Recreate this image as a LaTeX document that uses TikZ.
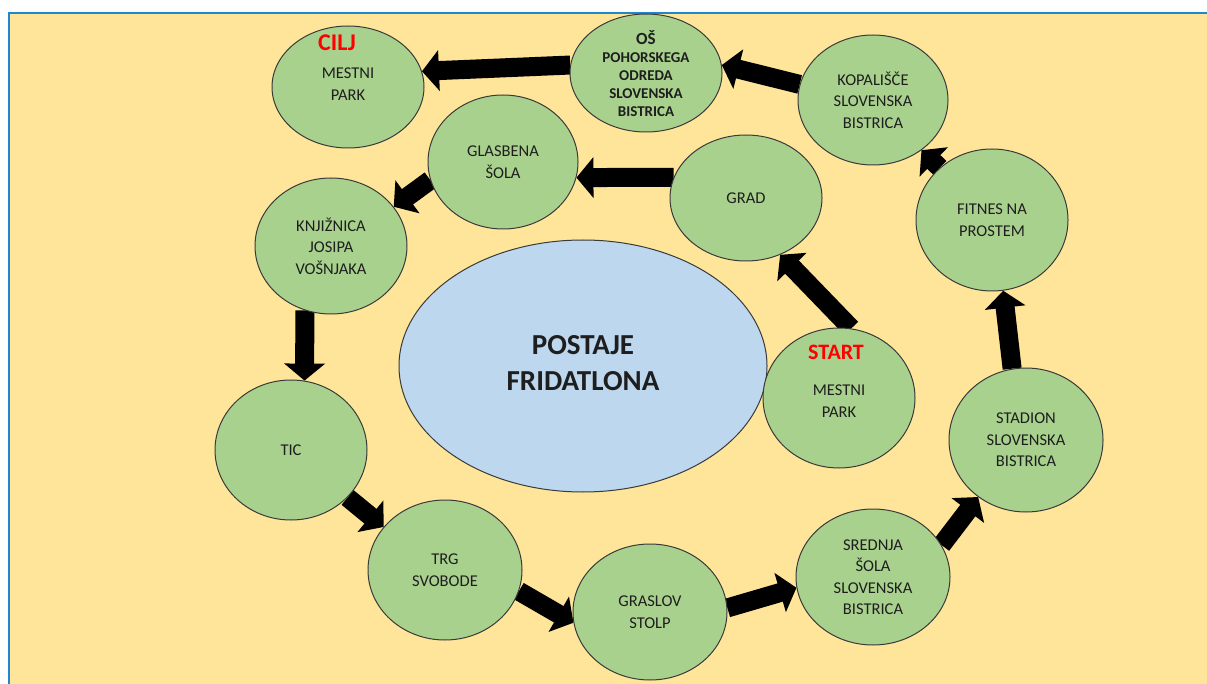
\documentclass[tikz,border=0pt]{standalone}
\usepackage{fontspec}
\setmainfont{Carlito}
\usetikzlibrary{arrows.meta,shapes.geometric}
\definecolor{bgy}{HTML}{FFE599}
\definecolor{grn}{HTML}{A9D18E}
\definecolor{lblue}{HTML}{BDD7EE}
\definecolor{framec}{HTML}{1F87D0}
\definecolor{edgec}{HTML}{3A3A3A}
\definecolor{txt}{HTML}{1E1E1E}
\definecolor{redt}{HTML}{FF0000}
\pgfdeclarelayer{bg}
\pgfdeclarelayer{arr}
\pgfsetlayers{bg,arr,main}
\begin{document}
\begin{tikzpicture}[x=1pt,y=-1pt,
  stn/.style 2 args={ellipse, draw=edgec, line width=1pt, fill=grn, inner sep=0pt,
     text=txt, align=center, font=\fontsize{16.5}{21.5}\selectfont,
     minimum width=#1pt, minimum height=#2pt},
  lbl/.style={text=txt, align=center, inner sep=0pt, font=\fontsize{16.5}{21.5}\selectfont},
  blk/.style={draw=black, line width=19pt, -{Triangle[width=40pt,length=17pt]}},
]
\useasboundingbox (0,0) rectangle (1207,684);
\begin{pgfonlayer}{bg}
\fill[white] (0,0) rectangle (1207,684);
\fill[bgy] (9,13) rectangle (1207,684);
\draw[framec, line width=2.5pt] (9,684) -- (9,13) -- (1207,13);
\end{pgfonlayer}

% stations
\node[stn={152}{122}] (cilj) at (348,87) {};
\node[stn={152}{118}] (os) at (646,73) {};
\node[stn={150}{130}] (kop) at (873,100) {KOPALIŠČE\\SLOVENSKA\\BISTRICA};
\node[stn={150}{134}] (glas) at (503,162) {GLASBENA\\ŠOLA};
\node[stn={152}{126}] (grad) at (746,198) {GRAD};
\node[stn={152}{136}] (knj) at (331,246) {KNJIŽNICA\\JOSIPA\\VOŠNJAKA};
\node[stn={152}{142}] (fit) at (992,220) {FITNES NA\\PROSTEM};
\node[ellipse, draw=edgec, line width=1pt, fill=lblue, inner sep=0pt,
      minimum width=368pt, minimum height=252pt] (post) at (583,366) {};
\node[stn={152}{140}] (start) at (839,398) {};
\node[stn={154}{144}] (stad) at (1026,440) {STADION\\SLOVENSKA\\BISTRICA};
\node[stn={152}{140}] (tic) at (291,450) {TIC};
\node[stn={154}{140}] (trg) at (445,570) {TRG\\SVOBODE};
\node[stn={154}{136}] (grasl) at (650,612) {GRASLOV\\STOLP};
\node[stn={154}{136}] (sred) at (873,577) {SREDNJA\\ŠOLA\\SLOVENSKA\\BISTRICA};

% texts
\node[text=redt, inner sep=0pt, font=\bfseries\fontsize{24}{24}\selectfont] (ciljt) at (337,43) {CILJ};
\node[lbl] (ciljm) at (348,84) {MESTNI\\PARK};
\node[text=redt, inner sep=0pt, font=\bfseries\fontsize{22}{22}\selectfont] (startt) at (836,352) {START};
\node[lbl] (startm) at (839,401) {MESTNI\\PARK};
\node[text=txt, inner sep=0pt, font=\bfseries\fontsize{17}{17}\selectfont] (ost) at (646,38) {OŠ};
\node[text=txt, inner sep=0pt, align=center, font=\bfseries\fontsize{15}{18}\selectfont] (osm) at (646,85) {POHORSKEGA\\ODREDA\\SLOVENSKA\\BISTRICA};
\node[text=txt, inner sep=0pt, align=center, font=\bfseries\fontsize{29}{36}\selectfont] (postt) at (583,363) {POSTAJE\\FRIDATLONA};

% arrows
\begin{pgfonlayer}{arr}
\draw[blk] (start.80) -- (grad.-59);
\draw[blk] (grad.164) -- (glas.-12);
\draw[blk] (glas.-166) -- (knj.32);
\draw[blk] (knj.-112) -- (tic.79);
\draw[blk] (tic.-40) -- (trg.145);
\draw[blk] (trg.-16) -- (grasl.188);
\draw[blk] (grasl.3) -- (sred.188);
\draw[blk] (sred.25) -- (stad.230);
\draw[blk] (stad.101) -- (fit.-81);
\draw[blk] (fit.135) -- (kop.-46);
\draw[blk] (kop.168) -- (os.6);
\draw[blk] (os.174) -- (cilj.12);
\end{pgfonlayer}
\end{tikzpicture}
\end{document}
